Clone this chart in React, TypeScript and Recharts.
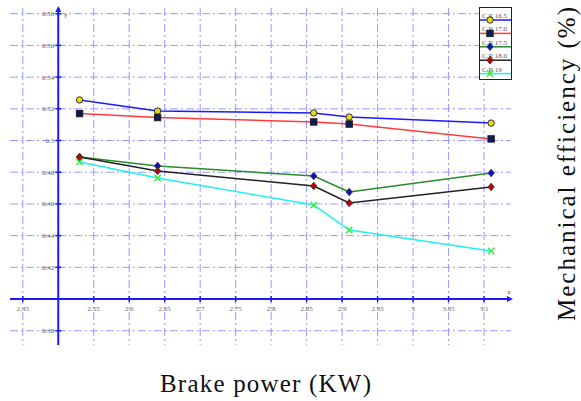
import React from "react";
import {
  CartesianGrid,
  Line,
  LineChart,
  ReferenceDot,
  ReferenceLine,
  XAxis,
  YAxis,
} from "recharts";

const brakePower = [2.53, 2.64, 2.86, 2.91, 3.11];
const cr165 = [0.5256, 0.5186, 0.5174, 0.5148, 0.511];
const cr170 = [0.517, 0.5145, 0.5117, 0.5104, 0.501];
const cr175 = [0.4896, 0.484, 0.4776, 0.4675, 0.4795];
const cr180 = [0.4896, 0.4808, 0.4713, 0.4606, 0.4707];
const cr190 = [0.4864, 0.4763, 0.4593, 0.4435, 0.4303];

const xTicks = [2.45, 2.55, 2.6, 2.65, 2.7, 2.75, 2.8, 2.85, 2.9, 2.95, 3, 3.05, 3.1];
const xTickLabels = ["2.45", "2.55", "2.6", "2.65", "2.7", "2.75", "2.8", "2.85", "2.9", "2.95", "3", "3.05", "3.1"];
const yTicks = [0.38, 0.42, 0.44, 0.46, 0.48, 0.5, 0.52, 0.54, 0.56, 0.58];
const yTickLabels = ["0.38", "0.42", "0.44", "0.46", "0.48", "0.5", "0.52", "0.54", "0.56", "0.58"];
const xGrid = [2.45, 2.5, 2.55, 2.6, 2.65, 2.7, 2.75, 2.8, 2.85, 2.9, 2.95, 3, 3.05, 3.1];
const yGrid = [0.38, 0.4, 0.42, 0.44, 0.46, 0.48, 0.5, 0.52, 0.54, 0.56, 0.58];

const X_DOMAIN: [number, number] = [2.432, 3.138];
const Y_DOMAIN: [number, number] = [0.371, 0.5836];
const AXIS_X = 2.5;
const AXIS_Y = 0.4;

const data = brakePower.map((x, i) => ({
  x,
  cr165: cr165[i],
  cr170: cr170[i],
  cr175: cr175[i],
  cr180: cr180[i],
  cr190: cr190[i],
}));

const AXIS_BLUE = "#1a1aff";
const TICK_FONT = "'Liberation Serif', 'DejaVu Serif', serif";

type Marker = "circle" | "square" | "diamondBlue" | "diamondRed" | "cross";

function MarkerShape({ kind, cx, cy }: { kind: Marker; cx: number; cy: number }) {
  if (kind === "circle")
    return <circle cx={cx} cy={cy} r={3.2} fill="#e8dc10" stroke="#333" strokeWidth={1} />;
  if (kind === "square")
    return <rect x={cx - 3.2} y={cy - 3.2} width={6.4} height={6.4} fill="#0a1a5a" stroke="#222" strokeWidth={1} />;
  if (kind === "diamondBlue" || kind === "diamondRed") {
    const fill = kind === "diamondBlue" ? "#1010c0" : "#c00000";
    return (
      <path
        d={`M${cx},${cy - 3.8} L${cx + 3.2},${cy} L${cx},${cy + 3.8} L${cx - 3.2},${cy} Z`}
        fill={fill}
        stroke="#333"
        strokeWidth={0.8}
      />
    );
  }
  return (
    <path
      d={`M${cx - 3.2},${cy - 3.2} L${cx + 3.2},${cy + 3.2} M${cx + 3.2},${cy - 3.2} L${cx - 3.2},${cy + 3.2}`}
      stroke="#3ee83e"
      strokeWidth={1.5}
    />
  );
}

const makeDot = (kind: Marker) => (props: any) => {
  const { cx, cy, index } = props;
  if (cx == null || cy == null) return <g key={`n-${index}`} />;
  return (
    <g key={`${kind}-${index}`}>
      <MarkerShape kind={kind} cx={cx} cy={cy} />
    </g>
  );
};

const series = [
  { key: "cr165", name: "C.R 16.5", color: "#1a1aff", marker: "circle" as Marker },
  { key: "cr170", name: "C.R 17.0", color: "#ff3b3b", marker: "square" as Marker },
  { key: "cr175", name: "C.R 17.5", color: "#2a8a2a", marker: "diamondBlue" as Marker },
  { key: "cr180", name: "C.R 18.0", color: "#222222", marker: "diamondRed" as Marker },
  { key: "cr190", name: "C.R 19", color: "#22f0f0", marker: "cross" as Marker },
];

function LegendBox() {
  const rowH = 13.4;
  return (
    <svg width={33} height={73} style={{ display: "block" }}>
      <rect x={0.5} y={0.5} width={32} height={72} fill="#fff" stroke="#222" strokeWidth={1} />
      {series.map((s, i) => {
        const top = i * rowH;
        const lineY = top + 13;
        return (
          <g key={s.key}>
            <text x={3} y={top + 11} fontSize={7} fontFamily={TICK_FONT} fill="#555">
              {s.name}
            </text>
            <line x1={1} x2={32} y1={lineY} y2={lineY} stroke={s.color} strokeWidth={1.5} />
            <MarkerShape kind={s.marker} cx={11} cy={lineY} />
          </g>
        );
      })}
    </svg>
  );
}

const XTick = (label: string) => (props: any) => {
  const { cx, cy } = props;
  return (
    <g>
      <line x1={cx} x2={cx} y1={cy - 3} y2={cy + 3} stroke={AXIS_BLUE} strokeWidth={1.5} />
      <text x={cx} y={cy + 12} textAnchor="middle" fontSize={7} fontFamily={TICK_FONT} fill="#666">
        {label}
      </text>
    </g>
  );
};

const YTick = (label: string) => (props: any) => {
  const { cx, cy } = props;
  return (
    <g>
      <line x1={cx - 3} x2={cx + 3} y1={cy} y2={cy} stroke={AXIS_BLUE} strokeWidth={1.5} />
      <text x={cx - 4} y={cy + 2.5} textAnchor="end" fontSize={7} fontFamily={TICK_FONT} fill="#666">
        {label}
      </text>
    </g>
  );
};

const UpArrow = (props: any) => {
  const { cx, cy } = props;
  return (
    <g>
      <path d={`M${cx},${cy - 2} L${cx + 3},${cy + 4} L${cx - 3},${cy + 4} Z`} fill={AXIS_BLUE} />
      <text x={cx + 6} y={cy + 9} fontSize={6} fontFamily={TICK_FONT} fill="#444">
        y
      </text>
    </g>
  );
};

const RightArrow = (props: any) => {
  const { cx, cy } = props;
  return (
    <g>
      <path d={`M${cx + 2},${cy} L${cx - 4},${cy - 3} L${cx - 4},${cy + 3} Z`} fill={AXIS_BLUE} />
      <text x={cx - 2} y={cy - 5} textAnchor="middle" fontSize={6} fontFamily={TICK_FONT} fill="#444">
        x
      </text>
    </g>
  );
};

export default function App() {
  return (
    <div style={{ position: "absolute", left: 0, top: 0, width: 581, height: 401, background: "#fff" }}>
      <LineChart
        width={581}
        height={401}
        data={data}
        margin={{ top: 8, right: 70, bottom: 56, left: 10 }}
      >
        <CartesianGrid
          stroke="#9a9aff"
          strokeDasharray="8 3 2 3"
          strokeWidth={1}
          horizontalValues={yGrid}
          verticalValues={xGrid}
        />
        <XAxis dataKey="x" type="number" domain={X_DOMAIN} allowDataOverflow hide />
        <YAxis type="number" domain={Y_DOMAIN} allowDataOverflow hide />
        <ReferenceLine x={AXIS_X} stroke={AXIS_BLUE} strokeWidth={2} />
        <ReferenceLine y={AXIS_Y} stroke={AXIS_BLUE} strokeWidth={2} />
        {xTicks.map((v, i) => (
          <ReferenceDot key={`xt-${v}`} x={v} y={AXIS_Y} r={0} ifOverflow="visible" shape={XTick(xTickLabels[i])} />
        ))}
        {yTicks.map((v, i) => (
          <ReferenceDot key={`yt-${v}`} x={AXIS_X} y={v} r={0} ifOverflow="visible" shape={YTick(yTickLabels[i])} />
        ))}
        <ReferenceDot x={AXIS_X} y={Y_DOMAIN[1]} r={0} ifOverflow="visible" shape={UpArrow} />
        <ReferenceDot x={X_DOMAIN[1]} y={AXIS_Y} r={0} ifOverflow="visible" shape={RightArrow} />
        {series.map((s) => (
          <Line
            key={s.key}
            type="linear"
            dataKey={s.key}
            name={s.name}
            stroke={s.color}
            strokeWidth={1.5}
            dot={makeDot(s.marker)}
            activeDot={false}
            isAnimationActive={false}
          />
        ))}
      </LineChart>
      <div style={{ position: "absolute", left: 479, top: 7 }}>
        <LegendBox />
      </div>
      <div
        style={{
          position: "absolute",
          left: 160,
          width: 200,
          top: 370,
          textAlign: "center",
          whiteSpace: "nowrap",
          fontFamily: "'Liberation Serif', serif",
          fontSize: 25,
          letterSpacing: 1.2,
          lineHeight: "28px",
          color: "#111",
        }}
      >
        Brake power (KW)
      </div>
      <div
        style={{
          position: "absolute",
          left: 567,
          top: 163,
          transform: "translate(-50%, -50%) rotate(-90deg)",
          whiteSpace: "nowrap",
          fontFamily: "'Liberation Serif', serif",
          fontSize: 25,
          letterSpacing: 2.0,
          lineHeight: "28px",
          color: "#111",
        }}
      >
        Mechanical efficiency (%)
      </div>
    </div>
  );
}
